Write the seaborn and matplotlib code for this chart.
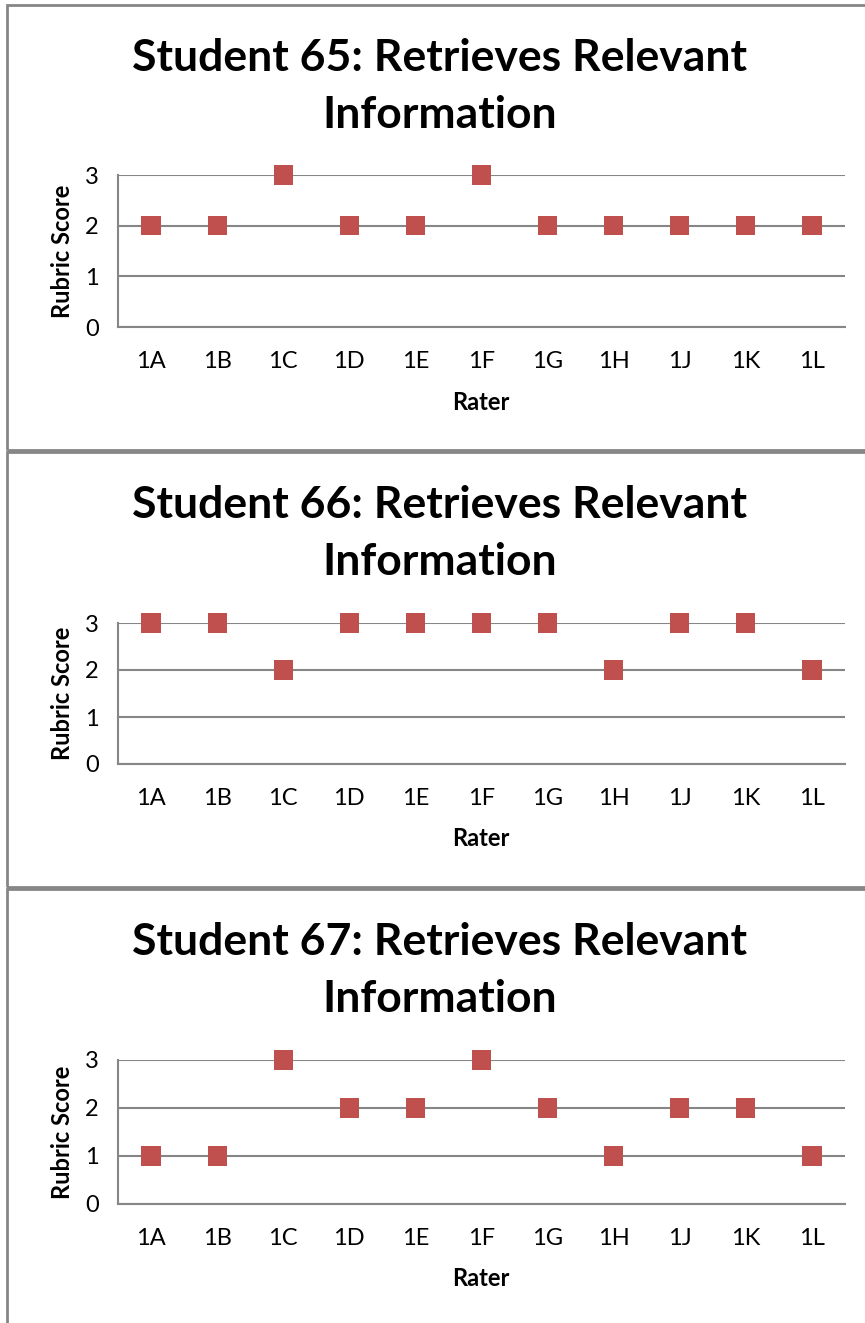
import numpy as np
import pandas as pd
import matplotlib
matplotlib.use("Agg")
import matplotlib.pyplot as plt
import seaborn as sns
from matplotlib.patches import Rectangle

raters = ['1A', '1B', '1C', '1D', '1E', '1F', '1G', '1H', '1J', '1K', '1L']
students = ['Student 65', 'Student 66', 'Student 67']
scores_65 = [2, 2, 3, 2, 2, 3, 2, 2, 2, 2, 2]
scores_66 = [3, 3, 2, 3, 3, 3, 3, 2, 3, 3, 2]
scores_67 = [1, 1, 3, 2, 2, 3, 2, 1, 2, 2, 1]
yticks = [0, 1, 2, 3]

sns.set_style("white")
plt.rcParams['font.family'] = ['Lato', 'DejaVu Sans']

W, H = 865, 1323
fig = plt.figure(figsize=(W / 100, H / 100), dpi=100)

gray = '#868686'
red = '#C0504D'

# pixel layout of each panel: (panel top, panel bottom, title line1 y, axes top, axes bottom, xlabel y)
panels = [
    (5, 450, 58, 175, 327, 403),
    (452, 887, 505, 623, 764, 838),
    (889, 1330, 942, 1060, 1204, 1278),
]
all_scores = [scores_65, scores_66, scores_67]

def fx(px):
    return px / W

def fy(py):
    return 1 - py / H

for (ptop, pbot, ty, atop, abot, xly), name, sc in zip(panels, students, all_scores):
    # panel frame
    fig.patches.append(Rectangle((fx(7), fy(pbot)), 1.2, fy(ptop) - fy(pbot),
                                 transform=fig.transFigure, fill=False,
                                 edgecolor=gray, linewidth=2, zorder=0))

    fig.text(fx(440), fy(ty), name + ': Retrieves Relevant', ha='center', va='center',
             fontsize=32, fontweight='bold', color='black')
    fig.text(fx(440), fy(ty + 57), 'Information', ha='center', va='center',
             fontsize=32, fontweight='bold', color='black')

    ax = fig.add_axes([fx(118), fy(abot), fx(845) - fx(118), fy(atop) - fy(abot)])
    df = pd.DataFrame({'Rater': raters, 'Score': sc})
    sns.scatterplot(data=df, x='Rater', y='Score', marker='s', s=190, color=red,
                    edgecolor='none', clip_on=False, zorder=5, ax=ax)

    ax.set_xlim(-0.5, len(raters) - 0.5)
    ax.set_ylim(0, 3)
    ax.set_yticks(yticks)
    ax.set_xticks(range(len(raters)))
    ax.set_xticklabels(raters)
    ax.set_xticks(np.arange(-0.5, len(raters), 1), minor=True)
    ax.tick_params(axis='x', which='major', length=0, pad=17, labelsize=17, labelcolor='black')
    ax.tick_params(axis='x', which='minor', length=8, width=1.5, color=gray, direction='out')
    ax.tick_params(axis='y', length=8, width=1.5, color=gray, direction='out', labelsize=17,
                   pad=6, labelcolor='black')
    ax.yaxis.grid(True, color=gray, linewidth=1.5)
    ax.set_axisbelow(True)
    for s in ['top', 'right']:
        ax.spines[s].set_visible(False)
    for s in ['left', 'bottom']:
        ax.spines[s].set_color(gray)
        ax.spines[s].set_linewidth(1.5)
    ax.set_xlabel('')
    ax.set_ylabel('Rubric Score', fontsize=17, fontweight='bold', labelpad=8, color='black')
    fig.text(fx(481), fy(xly), 'Rater', ha='center', va='center', fontsize=17,
             fontweight='bold', color='black')

fig.savefig('out.png', dpi=100)
